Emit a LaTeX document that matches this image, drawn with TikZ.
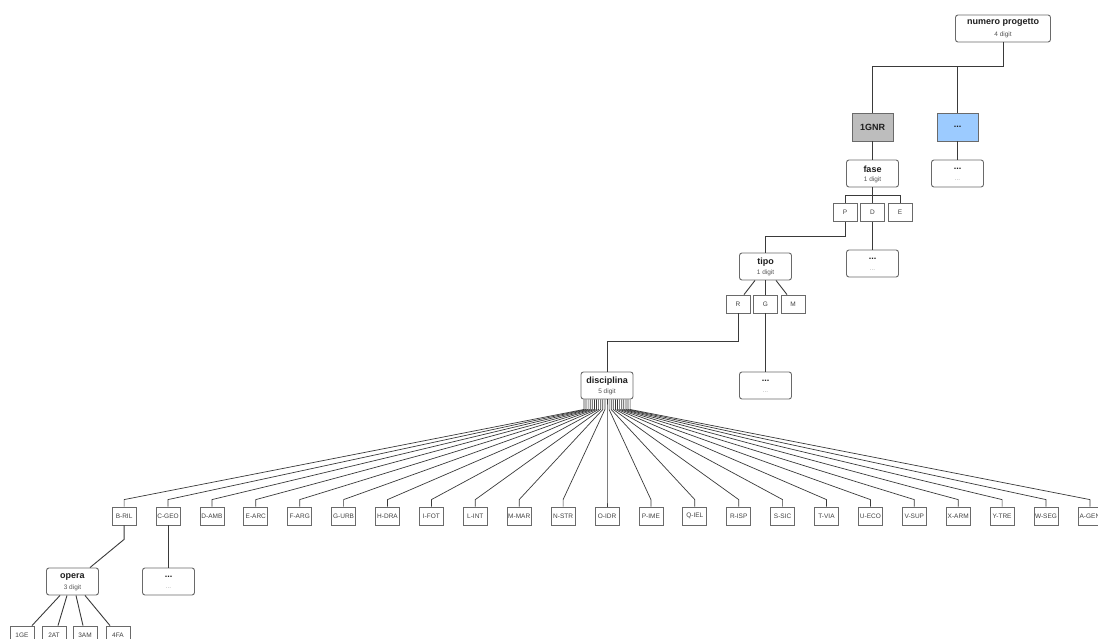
\documentclass[tikz,border=0pt]{standalone}
\usepackage{fontspec}
\setmainfont{Liberation Sans}
\definecolor{lnc}{HTML}{3A3A3A}
\definecolor{bdc}{HTML}{6A6A6A}
\definecolor{txc}{HTML}{1E1E1E}
\definecolor{sbc}{HTML}{555555}
\definecolor{gnrfill}{HTML}{BDBDBD}
\definecolor{bluefill}{HTML}{9CCBFF}
\tikzset{
  conn/.style={draw=lnc, line width=0.9pt},
  infobox/.style={draw=bdc, line width=0.9pt, rounded corners=2.5pt, fill=white, minimum width=52pt, minimum height=27pt, inner sep=0pt},
  titletext/.style={inner sep=0pt, text=txc, font=\fontsize{9}{10}\selectfont\bfseries},
  subtext/.style={inner sep=0pt, text=sbc, font=\fontsize{6.5}{7}\selectfont},
  dotsub/.style={inner sep=0pt, text=black!35, font=\fontsize{6.5}{7}\selectfont},
  leaf/.style={draw=bdc, line width=0.8pt, fill=white, minimum width=24pt, minimum height=18pt, inner sep=0pt, text=txc!85, font=\fontsize{6.5}{7}\selectfont},
  codebox/.style={draw=bdc, line width=0.9pt, minimum width=41pt, minimum height=28pt, inner sep=0pt, text=txc, font=\fontsize{9}{10}\selectfont\bfseries}
}
\newcommand\infobox[5]{% name, center x, top y, title, sub
  \node[infobox] (#1) at (#2,#3+13.5) {};
  \node[titletext] (#1-t) at (#2,#3+9) {#4};
  \node[subtext] (#1-s) at (#2,#3+20) {#5};
}
\newcommand\dotsbox[3]{% name, center x, top y
  \node[infobox] (#1) at (#2,#3+13.5) {};
  \node[titletext] (#1-t) at (#2,#3+9) {...};
  \node[dotsub] (#1-s) at (#2,#3+20) {...};
}
\begin{document}
\begin{tikzpicture}[x=1pt,y=-1pt]
\useasboundingbox (0,0) rectangle (1098,639);
\fill[white] (0,0) rectangle (1098,639);
\clip (0,0) rectangle (1098,639);

% top
\node[infobox, minimum width=95pt] (np) at (1003,28.5) {};
\node[titletext] (np-t) at (1003,23) {numero progetto};
\node[subtext] (np-s) at (1003,35) {4 digit};

\node[codebox, fill=gnrfill] (gnr) at (872.5,127) {1GNR};
\node[codebox, fill=bluefill] (blue) at (957.5,127) {...};
\draw[conn] (np.south) -- ++(0,24) -| (gnr.north);
\draw[conn] (np.south) ++(0,24) -| (blue.north);

\infobox{fase}{872.5}{160}{fase}{1 digit}
\dotsbox{dotsA}{957.5}{160}
\draw[conn] (gnr.south) -- (fase.north);
\draw[conn] (blue.south) -- (dotsA.north);

% P D E
\node[leaf] (P) at (845,212.5) {P};
\node[leaf] (D) at (872.5,212.5) {D};
\node[leaf] (E) at (900,212.5) {E};
\draw[conn] (fase.south) -- ++(0,8) -| (P.north);
\draw[conn] (fase.south) ++(0,8) -| (E.north);
\draw[conn] (fase.south) -- (D.north);

\dotsbox{dotsB}{872.5}{250}
\draw[conn] (D.south) -- (dotsB.north);

\infobox{tipo}{765.5}{253}{tipo}{1 digit}
\draw[conn] (P.south) -- ++(0,15) -| (tipo.north);

% R G M
\node[leaf] (R) at (738,304) {R};
\node[leaf] (G) at (765.5,304) {G};
\node[leaf] (M) at (793,304) {M};
\draw[conn] ([xshift=-10.5pt]tipo.south) -- ([xshift=6pt]R.north);
\draw[conn] (tipo.south) -- (G.north);
\draw[conn] ([xshift=10.5pt]tipo.south) -- ([xshift=-6pt]M.north);

\infobox{disc}{607}{372}{disciplina}{5 digit}
\draw[conn] (R.south) -- ++(0,28) -| (disc.north);

\dotsbox{dotsC}{765.5}{372}
\draw[conn] (G.south) -- (dotsC.north);

% disciplines
\foreach \lab [count=\i from 0] in {B-RIL,C-GEO,D-AMB,E-ARC,F-ARG,G-URB,H-DRA,I-FOT,L-INT,M-MAR,N-STR,O-IDR,P-IME,Q-IEL,R-ISP,S-SIC,T-VIA,U-ECO,V-SUP,X-ARM,Y-TRE,W-SEG,A-GEN}{
  \pgfmathsetmacro\cx{607+43.9*(\i-11)}
  \pgfmathsetmacro\dx{2.1*(\i-11)}
  \node[leaf] (l\i) at (\cx,516) {\lab};
  \draw[conn, line width=0.7pt] ([xshift=\dx pt]disc.south) -- ([xshift=\dx pt,yshift=-10pt]disc.south) -- ([yshift=7pt]l\i.north) -- (l\i.north);
}

% opera
\infobox{opera}{72.5}{568}{opera}{3 digit}
\draw[conn] (l0.south) -- ++(0,14) -- ([xshift=17.5pt]opera.north);

\dotsbox{dotsD}{168.5}{568}
\draw[conn] (l1.south) -- (l1.south |- dotsD.north);

\node[leaf] (o1) at (22,635) {1GE};
\node[leaf] (o2) at (54,635) {2AT};
\node[leaf] (o3) at (85,635) {3AM};
\node[leaf] (o4) at (118,635) {4FA};
\draw[conn] ([xshift=-12.5pt]opera.south) -- ([xshift=10pt]o1.north);
\draw[conn] ([xshift=-5.5pt]opera.south) -- ([xshift=4pt]o2.north);
\draw[conn] ([xshift=3.5pt]opera.south) -- ([xshift=-2pt]o3.north);
\draw[conn] ([xshift=12.5pt]opera.south) -- ([xshift=-8pt]o4.north);
\end{tikzpicture}
\end{document}
